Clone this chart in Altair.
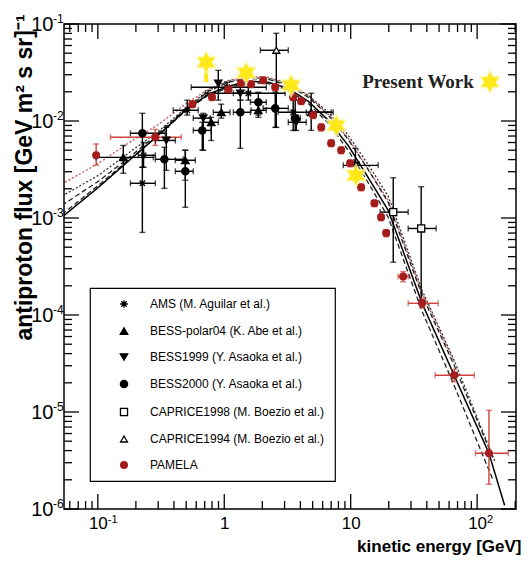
import altair as alt
import pandas as pd

# ---------------- data ----------------
series_order = [
    "AMS (M. Aguilar et al.)",
    "BESS-polar04 (K. Abe et al.)",
    "BESS1999 (Y. Asaoka et al.)",
    "BESS2000 (Y. Asaoka et al.)",
    "CAPRICE1998 (M. Boezio et al.)",
    "CAPRICE1994 (M. Boezio et al.)",
    "PAMELA",
]

ams_E = [0.225, 0.23, 0.51, 1.05, 1.55, 3.51]
ams_F = [0.00228, 0.00443, 0.0129, 0.0223, 0.0193, 0.0123]
ams_Elo = [0.181, 0.209, 0.395, 0.548, 0.708, 2.67]
ams_Ehi = [0.285, 0.285, 0.623, 2.15, 3.03, 7.27]
ams_Flo = [0.00071, 0.00333, 0.0115, 0.0198, 0.0164, 0.0080]
ams_Fhi = [0.00333, 0.0060, 0.0164, 0.0251, 0.0223, 0.0164]

bp_E = [0.159, 0.492, 0.789, 0.947, 1.86, 4.87]
bp_F = [0.00422, 0.00394, 0.0097, 0.0123, 0.0129, 0.0123]
bp_Elo = [0.097, 0.41, 0.682, 0.819, 1.63, 4.45]
bp_Ehi = [0.275, 0.59, 0.897, 1.11, 2.15, 7.01]
bp_Flo = [0.00289, 0.00245, 0.0063, 0.0107, 0.0109, 0.0080]
bp_Fhi = [0.0056, 0.0050, 0.0109, 0.0149, 0.0156, 0.0193]

b99_E = [0.348, 0.682, 0.897, 1.34, 3.71, 10.9]
b99_F = [0.0063, 0.0107, 0.0245, 0.0193, 0.0097, 0.00349]
b99_Elo = [0.285, 0.569, 0.897, 1.18, 3.21, 8.73]
b99_Ehi = [0.41, 0.775, 0.897, 1.61, 4.45, 16.5]
b99_Flo = [0.0031, 0.0050, 0.0164, 0.0164, 0.0080, 0.00275]
b99_Fhi = [0.0086, 0.0120, 0.0333, 0.0223, 0.0115, 0.00523]

b00_E = [0.225, 0.336, 0.492, 0.67, 1.34, 1.86, 2.53, 3.64]
b00_F = [0.00747, 0.00403, 0.00303, 0.0080, 0.0123, 0.0156, 0.0135, 0.0107]
b00_Elo = [0.181, 0.285, 0.41, 0.569, 1.18, 1.61, 2.03, 3.4]
b00_Ehi = [0.341, 0.474, 0.569, 0.789, 1.61, 2.15, 3.21, 4.0]
b00_Flo = [0.00333, 0.00202, 0.00129, 0.0050, 0.00523, 0.0115, 0.0086, 0.0080]
b00_Fhi = [0.0120, 0.00536, 0.0050, 0.0097, 0.0164, 0.0198, 0.0198, 0.0164]

c98_E = [21.7, 36.1]
c98_F = [0.00115, 0.00078]
c98_Elo = [17.1, 28.5]
c98_Ehi = [28.5, 47.4]
c98_Flo = [0.00035, 0.000142]
c98_Fhi = [0.0026, 0.0021]

c94_E = [2.58]
c94_F = [0.0536]
c94_Elo = [1.93]
c94_Ehi = [3.21]
c94_Flo = [0.0086]
c94_Fhi = [0.0802]

pam_E = [0.097, 0.285, 0.56, 0.80, 1.08, 1.36, 1.63, 2.03, 2.53, 3.51, 4.06, 5.05,
         5.85, 7.01, 8.41, 9.9, 12.1, 15.4, 17.4, 19.1, 26.0, 36.7, 65.8, 124]
pam_F = [0.00443, 0.0068, 0.0149, 0.0176, 0.0212, 0.0245, 0.0239, 0.0263, 0.0223, 0.0176,
         0.0160, 0.0115, 0.0086, 0.0059, 0.0050, 0.00366, 0.00207, 0.00142, 0.00102,
         0.00070, 0.00025, 0.000132, 0.0000239, 0.00000375]
pam_Elo = [0.097, 0.126, 0.53, 0.76, 1.02, 1.29, 1.55, 1.93, 2.40, 3.33, 3.85, 4.8,
           5.55, 6.65, 8.0, 9.4, 11.5, 14.6, 16.5, 18.1, 23.7, 28.5, 46.5, 97]
pam_Ehi = [0.097, 0.457, 0.59, 0.84, 1.14, 1.43, 1.71, 2.13, 2.66, 3.69, 4.27, 5.3,
           6.15, 7.37, 8.8, 10.4, 12.7, 16.2, 18.3, 20.1, 28.5, 49.2, 95, 176]
pam_Flo = [0.0035, 0.0056, 0.0138, 0.0163, 0.0196, 0.0227, 0.0221, 0.0243, 0.0206, 0.0163,
           0.0148, 0.0106, 0.0079, 0.00545, 0.0046, 0.00338, 0.00191, 0.00131, 0.00094,
           0.00064, 0.00022, 0.000118, 0.0000205, 0.0000018]
pam_Fhi = [0.0058, 0.0082, 0.0161, 0.0190, 0.0229, 0.0265, 0.0258, 0.0284, 0.0241, 0.0190,
           0.0173, 0.0124, 0.0093, 0.0064, 0.0054, 0.00395, 0.00224, 0.00153, 0.00110,
           0.00076, 0.00028, 0.000148, 0.0000275, 0.0000104]

star_E = [0.72, 1.49, 3.38, 7.7, 11.0]
star_F = [0.0403, 0.0315, 0.0233, 0.0090, 0.00275]
star_Flo = [0.0251, 0.0315, 0.0233, 0.0090, 0.00275]

grid_E = [0.052, 0.101, 0.174, 0.301, 0.492, 0.748, 1.08, 1.55, 2.23, 3.21, 4.61,
          6.64, 9.55, 13.7, 19.8, 36.7, 65.8]
solid_E = grid_E + [124, 165]
solid_F = [0.00102, 0.00207, 0.00385, 0.00713, 0.0129, 0.0189, 0.0228, 0.0257, 0.0251,
           0.0217, 0.0160, 0.0102, 0.0056, 0.00263, 0.0012, 0.000132, 0.0000239,
           0.00000375, 0.00000109]
dash1_E = grid_E + [134]
dash1_F = [0.00135, 0.00239, 0.00413, 0.00747, 0.0132, 0.0202, 0.0251, 0.0275, 0.0269,
           0.0233, 0.0176, 0.0115, 0.00647, 0.00318, 0.00145, 0.00016, 0.0000303, 0.00000333]
dash2_E = grid_E + [111, 134]
dash2_F = [0.00109, 0.00217, 0.00394, 0.0071, 0.0127, 0.0184, 0.0221, 0.0248, 0.0243,
           0.0208, 0.0152, 0.0095, 0.0050, 0.00233, 0.00102, 0.000109, 0.0000188,
           0.00000357, 0.00000198]
dot_E = grid_E + [139]
dot_F = [0.00168, 0.00275, 0.00465, 0.00783, 0.0135, 0.0207, 0.0257, 0.0282, 0.0275,
         0.0239, 0.0184, 0.0123, 0.00713, 0.00358, 0.00168, 0.00018, 0.0000341, 0.00000303]
red_E = [0.055, 0.101, 0.174, 0.301, 0.492, 0.748, 1.08, 1.55, 2.23, 3.21, 4.61, 6.64,
         9.55, 19.8, 36.7, 65.8]
red_F = [0.00233, 0.00366, 0.0059, 0.0092, 0.0149, 0.0212, 0.0263, 0.0289, 0.0282, 0.0245,
         0.0184, 0.0117, 0.00664, 0.00152, 0.00017, 0.0000325]

x_label_vals = [0.1, 1, 10, 100]
x_exp_vals = [0.1, 100]
x_exp_text = ["-1", "2"]
y_label_vals = [1e-6, 1e-5, 1e-4, 1e-3, 1e-2, 1e-1]
y_exp_text = ["-6", "-5", "-4", "-3", "-2", "-1"]

# ---------------- tables ----------------
sets = [
    (series_order[0], ams_E, ams_F, ams_Elo, ams_Ehi, ams_Flo, ams_Fhi),
    (series_order[1], bp_E, bp_F, bp_Elo, bp_Ehi, bp_Flo, bp_Fhi),
    (series_order[2], b99_E, b99_F, b99_Elo, b99_Ehi, b99_Flo, b99_Fhi),
    (series_order[3], b00_E, b00_F, b00_Elo, b00_Ehi, b00_Flo, b00_Fhi),
    (series_order[4], c98_E, c98_F, c98_Elo, c98_Ehi, c98_Flo, c98_Fhi),
    (series_order[5], c94_E, c94_F, c94_Elo, c94_Ehi, c94_Flo, c94_Fhi),
    (series_order[6], pam_E, pam_F, pam_Elo, pam_Ehi, pam_Flo, pam_Fhi),
]
rows = []
for name, E, F, Elo, Ehi, Flo, Fhi in sets:
    ec = "#d0403a" if name == "PAMELA" else "black"
    for i in range(len(E)):
        rows.append(dict(series=name, E=E[i], F=F[i], Elo=Elo[i], Ehi=Ehi[i],
                         Flo=Flo[i], Fhi=Fhi[i], ecol=ec))
pts = pd.DataFrame(rows)
stars = pd.DataFrame(dict(E=star_E, F=star_F, Flo=star_Flo))
one = pd.DataFrame(dict(label=["Present Work"]))

W, H = 452, 485
xs = alt.Scale(type="log", domain=[0.054, 203], nice=False)
ys = alt.Scale(type="log", domain=[1e-6, 1e-1], nice=False)

FONT = "Liberation Sans, Arial, sans-serif"

x_expr = "datum.value > 0.5 && datum.value < 5 ? '1' : '10'"
y_expr = "'10'"

xaxis = alt.Axis(values=x_label_vals, labelExpr=x_expr, grid=False, ticks=False, tickSize=0,
                 domain=False, labelFont=FONT, labelFontSize=17, labelColor="black",
                 labelPadding=6, title="kinetic energy [GeV]", titleFont=FONT,
                 titleFontSize=17, titleFontWeight="bold", titleColor="black",
                 titleAlign="right", titleX=W + 5, titleY=42, titleBaseline="alphabetic")
yaxis = alt.Axis(values=y_label_vals, labelExpr=y_expr, grid=False, ticks=False, tickSize=0,
                 domain=False, labelFont=FONT, labelFontSize=20, labelColor="black",
                 labelPadding=11, labelBaseline="middle",
                 title="antiproton flux [GeV m² s sr]⁻¹", titleFont=FONT, titleFontSize=23,
                 titleFontWeight="bold", titleColor="black", titleAngle=270,
                 titleX=-33, titleY=153, titleAlign="center", titleBaseline="alphabetic")


def X(f, **k):
    return alt.X(f, scale=xs, axis=xaxis, **k)


def Y(f, **k):
    return alt.Y(f, scale=ys, axis=yaxis, **k)


# ---------------- curves ----------------
def curve(E, F, color, dash, width=1.4):
    df = pd.DataFrame(dict(E=E, F=F, o=range(len(E))))
    m = alt.Chart(df).mark_line(color=color, strokeWidth=width, strokeDash=dash, clip=True)
    return m.encode(x=X("E:Q"), y=Y("F:Q"), order="o:Q")


lines = [
    curve(red_E, red_F, "#c0504d", [2, 2], 1.3),
    curve(dot_E, dot_F, "#333333", [2, 2], 1.3),
    curve(dash1_E, dash1_F, "#222222", [5, 3], 1.3),
    curve(dash2_E, dash2_F, "#222222", [5, 3], 1.3),
    curve(solid_E, solid_F, "black", [1, 0], 1.5),
]

# ---------------- error bars ----------------
base = alt.Chart(pts)
col = alt.Color("ecol:N", scale=None)
hbar = base.mark_rule(strokeWidth=1.4).encode(x=X("Elo:Q"), x2="Ehi:Q", y=Y("F:Q"), color=col)
vbar = base.mark_rule(strokeWidth=1.4).encode(x=X("E:Q"), y=Y("Flo:Q"), y2="Fhi:Q", color=col)
cap_l = base.mark_tick(orient="vertical", size=6, thickness=1.4).encode(x=X("Elo:Q"), y=Y("F:Q"), color=col)
cap_r = base.mark_tick(orient="vertical", size=6, thickness=1.4).encode(x=X("Ehi:Q"), y=Y("F:Q"), color=col)
cap_b = base.mark_tick(orient="horizontal", size=6, thickness=1.4).encode(x=X("E:Q"), y=Y("Flo:Q"), color=col)
cap_t = base.mark_tick(orient="horizontal", size=6, thickness=1.4).encode(x=X("E:Q"), y=Y("Fhi:Q"), color=col)

# ---------------- points with legend ----------------
ast = "M-1,0L1,0M0,-1L0,1M-0.7,-0.7L0.7,0.7M-0.7,0.7L0.7,-0.7"
shapes = [ast, "triangle-up", "triangle-down", "circle", "square", "triangle-up", "circle"]
fills = ["black", "black", "black", "black", "white", "white", "#a51c1c"]
strokes = ["black", "black", "black", "black", "black", "black", "#a51c1c"]
sizes = [60, 45, 45, 45, 40, 60, 90]
leg = dict(title=None)
points = base.mark_point(filled=False, opacity=1, strokeWidth=1.3).encode(
    x=X("E:Q"),
    y=Y("F:Q"),
    shape=alt.Shape("series:N", scale=alt.Scale(domain=series_order, range=shapes), legend=alt.Legend(**leg)),
    fill=alt.Fill("series:N", scale=alt.Scale(domain=series_order, range=fills), legend=alt.Legend(**leg)),
    stroke=alt.Stroke("series:N", scale=alt.Scale(domain=series_order, range=strokes), legend=alt.Legend(**leg)),
    size=alt.Size("series:N", scale=alt.Scale(domain=series_order, range=sizes), legend=alt.Legend(**leg)),
)

# ---------------- stars (present work) ----------------
hexa = "M0,-1L0.866,0.5L-0.866,0.5Z M0,1L-0.866,-0.5L0.866,-0.5Z"
sb = alt.Chart(stars)
stem = sb.mark_rule(color="#ffe81a", strokeWidth=4).encode(x=X("E:Q"), y=Y("Flo:Q"), y2="F:Q")
glow = sb.mark_point(shape=hexa, filled=True, color="#fff6a8", opacity=0.8, size=650).encode(x=X("E:Q"), y=Y("F:Q"))
star = sb.mark_point(shape=hexa, filled=True, color="#ffe81a", opacity=1, size=360).encode(x=X("E:Q"), y=Y("F:Q"))

ob = alt.Chart(one)
pw_text = ob.mark_text(font="Liberation Serif, Times New Roman, serif",
                       fontSize=19, fontWeight="bold", color="#222222", align="center",
                       baseline="middle").encode(x=alt.value(354), y=alt.value(58), text="label:N")
pw_glow = ob.mark_point(shape=hexa, filled=True, color="#fff6a8", opacity=0.8, size=650).encode(
    x=alt.value(426), y=alt.value(58))
pw_star = ob.mark_point(shape=hexa, filled=True, color="#ffe81a", opacity=1, size=360).encode(
    x=alt.value(426), y=alt.value(58))

# ---------------- exponents of the tick labels ----------------
yexp = alt.Chart(pd.DataFrame(dict(v=y_label_vals, t=y_exp_text))).mark_text(
    align="left", baseline="top", font=FONT, fontSize=12, color="black", dy=-10
).encode(y=Y("v:Q"), x=alt.value(-11), text="t:N")
xexp = alt.Chart(pd.DataFrame(dict(v=x_exp_vals, t=x_exp_text))).mark_text(
    align="left", baseline="top", font=FONT, fontSize=11, color="black", dx=10
).encode(x=X("v:Q"), y=alt.value(H + 5), text="t:N")

# ---------------- frame ticks (inward) ----------------
x_major = x_label_vals
x_minor = [k * 10.0 ** d for d in range(-2, 3) for k in range(2, 10) if 0.054 <= k * 10.0 ** d <= 203]
y_major = y_label_vals
y_minor = [k * 10.0 ** d for d in range(-6, -1) for k in range(2, 10)]


def xt(vals, y0, y1):
    return alt.Chart(pd.DataFrame(dict(v=vals))).mark_rule(color="black", strokeWidth=1.3).encode(
        x=X("v:Q"), y=alt.value(y0), y2=alt.value(y1))


def yt(vals, x0, x1):
    return alt.Chart(pd.DataFrame(dict(v=vals))).mark_rule(color="black", strokeWidth=1.3).encode(
        y=Y("v:Q"), x=alt.value(x0), x2=alt.value(x1))


ticks = [
    xt(x_major, H, H - 15), xt(x_minor, H, H - 8),
    xt(x_major, 0, 15), xt(x_minor, 0, 8),
    yt(y_major, 0, 15), yt(y_minor, 0, 8),
    yt(y_major, W, W - 15), yt(y_minor, W, W - 8),
]

chart = alt.layer(
    *lines, hbar, vbar, cap_l, cap_r, cap_b, cap_t, points,
    stem, glow, star, pw_glow, pw_star, pw_text, yexp, xexp, *ticks
).properties(
    width=W, height=H,
    autosize=alt.AutoSizeParams(type="none"),
    padding={"left": 56, "top": 16, "right": 6, "bottom": 46},
    background="white",
).configure_view(
    stroke="black", strokeWidth=1.5
).configure_legend(
    orient="none", legendX=26, legendY=264, strokeColor="black", strokeWidth=1.2,
    fillColor="white", padding=10, rowPadding=14, labelFont=FONT, labelFontSize=12,
    labelLimit=400, labelColor="black", symbolOffset=18, labelOffset=20, symbolStrokeWidth=1.3,
)

chart.save("out.html", embed_options={"renderer": "svg", "actions": False})
